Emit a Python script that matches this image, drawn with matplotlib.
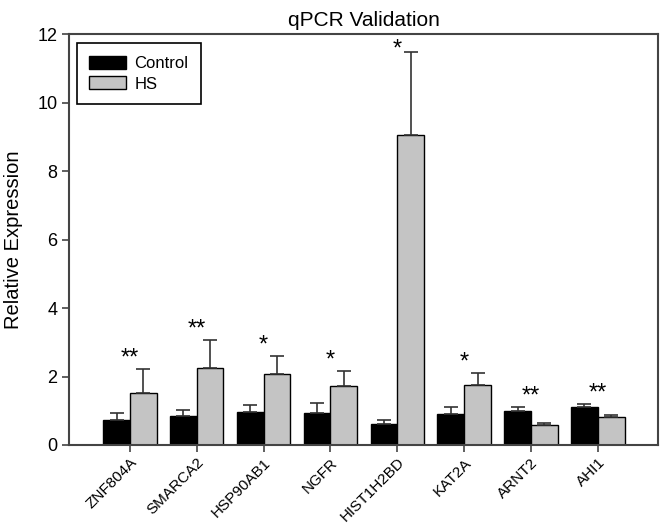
import matplotlib
matplotlib.use("Agg")
import matplotlib.pyplot as plt
import matplotlib.transforms as mtransforms
import numpy as np

genes = ["ZNF804A", "SMARCA2", "HSP90AB1", "NGFR", "HIST1H2BD", "KAT2A", "ARNT2", "AHI1"]
control = [0.72, 0.86, 0.96, 0.94, 0.62, 0.91, 1.00, 1.12]
control_err = [0.22, 0.15, 0.22, 0.28, 0.11, 0.21, 0.11, 0.09]
hs = [1.53, 2.24, 2.06, 1.73, 9.05, 1.75, 0.58, 0.81]
hs_err = [0.69, 0.83, 0.54, 0.44, 2.43, 0.35, 0.06, 0.08]
signif = ["**", "**", "*", "*", "*", "*", "**", "**"]

plt.rcParams['font.family'] = ['Liberation Sans', 'DejaVu Sans']

fig = plt.figure(figsize=(6.64, 5.26), dpi=100)
ax = fig.add_axes([0.104, 0.154, 0.887, 0.781])

x = np.arange(len(genes))
w = 0.4
ekw = dict(ecolor='#333333', elinewidth=1.2, capsize=5, capthick=1.2)
ax.bar(x - w/2, control, w, color='black', edgecolor='black', linewidth=1,
       yerr=[np.zeros(len(control)), control_err], error_kw=ekw, label='Control', zorder=2)
ax.bar(x + w/2, hs, w, color='#c4c4c4', edgecolor='black', linewidth=1,
       yerr=[np.zeros(len(hs)), hs_err], error_kw=ekw, label='HS', zorder=2)

for i, s in enumerate(signif):
    top = max(control[i] + control_err[i], hs[i] + hs_err[i])
    ax.text(x[i], min(top + 0.3, 11.55), s, ha='center', va='center', fontsize=17)

ax.set_xlim(-0.91, len(genes) - 0.1)
ax.set_ylim(0, 12)
ax.set_yticks(np.arange(0, 13, 2))
ax.set_xticks(x)
ax.set_xticklabels(genes, rotation=45, ha='right', rotation_mode='anchor', fontsize=11)
shift = mtransforms.ScaledTranslation(0.04, 0, fig.dpi_scale_trans)
for lbl in ax.get_xticklabels():
    lbl.set_transform(lbl.get_transform() + shift)
ax.tick_params(axis='y', labelsize=13, direction='out', length=5, width=1.2, color='#444444')
ax.tick_params(axis='x', direction='out', length=5, width=1.2, color='#444444', pad=2.5)
for sp in ax.spines.values():
    sp.set_color('#444444')
    sp.set_linewidth(1.5)

ax.set_ylabel('Relative Expression', fontsize=14.5, labelpad=10)
ax.set_title('qPCR Validation', fontsize=15, pad=6)

leg = ax.legend(loc='upper left', bbox_to_anchor=(0.013, 0.978), fontsize=12,
                frameon=True, fancybox=False, edgecolor='black', framealpha=1,
                handlelength=2.2, handleheight=0.85, borderpad=0.75, labelspacing=0.3,
                handletextpad=0.5, borderaxespad=0)
leg.get_frame().set_linewidth(1.2)

fig.savefig("out.png", dpi=100)
